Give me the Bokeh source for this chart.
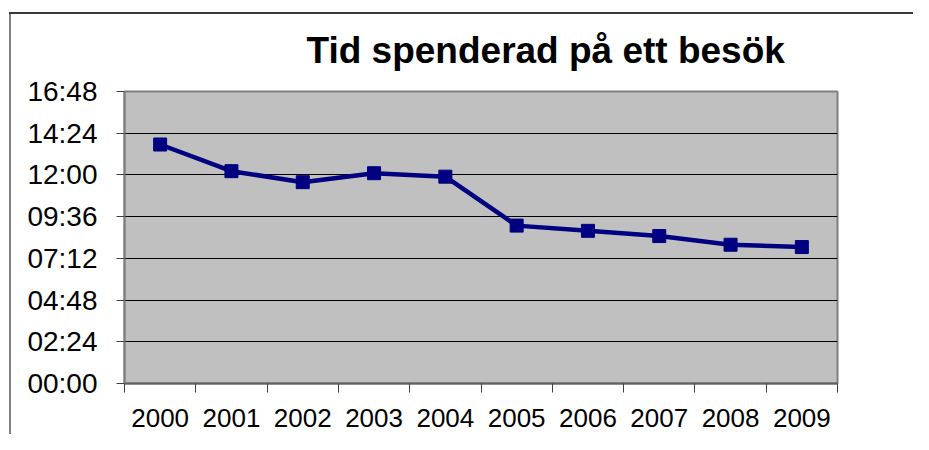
from bokeh.plotting import figure
from bokeh.models import FixedTicker, CustomJSTickFormatter, Range1d
from bokeh.embed import file_html
from bokeh.resources import INLINE

# ---- data ----
years = ["2000", "2001", "2002", "2003", "2004", "2005", "2006", "2007", "2008", "2009"]
times = ["13:45", "12:13", "11:35", "12:06", "11:54", "09:05", "08:47", "08:29", "07:59", "07:51"]
y_tick_labels = ["00:00", "02:24", "04:48", "07:12", "09:36", "12:00", "14:24", "16:48"]
title_text = "Tid spenderad på ett besök"


def to_sec(s):
    m, sec = s.split(":")
    return int(m) * 60 + int(sec)


secs = [to_sec(t) for t in times]
y_ticks = [to_sec(t) for t in y_tick_labels]
xs = [i + 0.5 for i in range(len(years))]
bounds = list(range(len(years) + 1))

FONT = "Liberation Sans"
W, H = 913, 434

p = figure(width=W, height=H, output_backend="svg", toolbar_location=None,
           x_range=Range1d(0, len(years)), y_range=Range1d(0, y_ticks[-1]),
           min_border_left=124, min_border_right=76, min_border_top=91,
           min_border_bottom=51)

p.title.text = title_text
p.title.text_font = FONT
p.title.text_font_size = "37px"
p.title.text_font_style = "bold"
p.title.align = "left"
p.title.offset = 182
p.title.standoff = 41
p.title.text_color = "black"

p.background_fill_color = "#C0C0C0"
p.border_fill_alpha = 0
p.outline_line_color = "#808080"
p.outline_line_width = 2

# y axis
p.yaxis.ticker = FixedTicker(ticks=y_ticks, minor_ticks=[])
p.yaxis.major_label_overrides = {t: l for t, l in zip(y_ticks, y_tick_labels)}
p.yaxis.major_label_text_font = FONT
p.yaxis.major_label_text_font_size = "28px"
p.yaxis.major_label_text_color = "black"
p.yaxis.major_tick_out = 8
p.yaxis.major_tick_in = 0
p.yaxis.major_tick_line_color = "#404040"
p.yaxis.major_label_standoff = 19
p.yaxis.axis_line_color = "#808080"
p.yaxis.axis_line_width = 2

# x axis
p.xaxis.ticker = FixedTicker(ticks=xs, minor_ticks=bounds)
p.xaxis.formatter = CustomJSTickFormatter(args=dict(labels=years),
                                          code="return labels[Math.floor(tick)];")
p.xaxis.major_label_text_font = FONT
p.xaxis.major_label_text_font_size = "26px"
p.xaxis.major_label_text_color = "black"
p.xaxis.major_tick_out = 0
p.xaxis.major_tick_in = 0
p.xaxis.minor_tick_out = 9
p.xaxis.minor_tick_in = 0
p.xaxis.minor_tick_line_color = "#404040"
p.xaxis.major_label_standoff = 16
p.xaxis.axis_line_color = "#606060"
p.xaxis.axis_line_width = 2

p.xgrid.visible = False
p.ygrid.grid_line_color = "black"
p.ygrid.grid_line_width = 1

p.line(xs, secs, line_color="#000080", line_width=4.5)
p.scatter(xs, secs, marker="square", size=13, fill_color="#000080",
          line_color="#000080")

# outer chart-area border (top and left edges; the others lie outside the window)
p.styles = {
    "background": ("linear-gradient(#3a3a3a, #3a3a3a) 9px 12px / 100% 2px no-repeat, "
                   "linear-gradient(#808080, #808080) 9px 12px / 2px 100% no-repeat, "
                   "white"),
}

open("out.html", "w").write(file_html(p, INLINE))
